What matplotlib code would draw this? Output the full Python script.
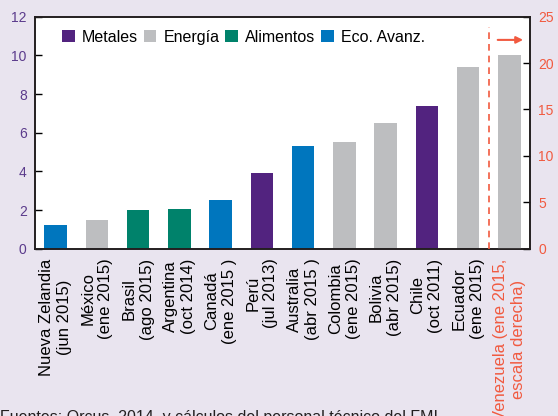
import matplotlib
matplotlib.use('Agg')
import matplotlib.pyplot as plt
from matplotlib.patches import Patch

plt.rcParams['font.family'] = ['Liberation Sans', 'DejaVu Sans']

# --- data ---
countries = ['Nueva Zelandia\n(jun 2015)', 'México\n(ene 2015)', 'Brasil\n(ago 2015)',
             'Argentina\n(oct 2014)', 'Canadá\n(ene 2015 )', 'Perú\n(jul 2013)',
             'Australia\n(abr 2015 )', 'Colombia\n(ene 2015)', 'Bolivia\n(abr 2015)',
             'Chile\n(oct 2011)', 'Ecuador\n(ene 2015)',
             'Venezuela (ene 2015,\nescala derecha)']
groups = ['Eco. Avanz.', 'Energía', 'Alimentos', 'Alimentos', 'Eco. Avanz.', 'Metales',
          'Eco. Avanz.', 'Energía', 'Energía', 'Metales', 'Energía', 'Energía']
values = [1.2, 1.5, 2.0, 2.05, 2.5, 3.9, 5.3, 5.5, 6.5, 7.4, 9.4]   # escala izquierda
venezuela = 20.9                                                     # escala derecha

legend_order = ['Metales', 'Energía', 'Alimentos', 'Eco. Avanz.']
group_colors = {
    'Metales': '#52237f',
    'Energía': '#bdbec0',
    'Alimentos': '#00826b',
    'Eco. Avanz.': '#0076be',
}
BG = '#e9e4ef'
PURPLE_TXT = '#5b3b8c'
RED = '#f15a40'

fig = plt.figure(figsize=(5.58, 4.16), dpi=100, facecolor=BG)
ax = fig.add_axes([35 / 558, 1 - 248.7 / 416, 495 / 558, 232 / 416])
ax2 = ax.twinx()

x = list(range(len(countries)))
ax.bar(x[:-1], values, width=0.55,
       color=[group_colors[g] for g in groups[:-1]], zorder=2)
ax2.bar(x[-1], venezuela, width=0.55, color=group_colors[groups[-1]], zorder=2)

ax.set_xlim(-0.5, len(countries) - 0.5)
ax.set_ylim(0, 12)
ax2.set_ylim(0, 25)
ax.set_yticks(range(0, 13, 2))
ax2.set_yticks(range(0, 26, 5))

ax.tick_params(axis='y', direction='in', length=5, width=1, labelsize=10,
               labelcolor=PURPLE_TXT, pad=6)
ax2.tick_params(axis='y', direction='in', length=5, width=1, labelsize=10,
                labelcolor=RED, pad=6)
ax.tick_params(axis='x', length=0, pad=7)

ax.set_xticks(x)
ax.set_xticklabels(countries, rotation=90, fontsize=12, ha='center',
                   va='top', multialignment='center', linespacing=1.25)
ax.get_xticklabels()[-1].set_color(RED)

for a in (ax, ax2):
    for s in a.spines.values():
        s.set_color('#231f20')
        s.set_linewidth(1.2)

# separador y flecha hacia la escala derecha
ax2.plot([10.5, 10.5], [0, 23.9], ls=(0, (4, 3)), color=RED, lw=1.2, zorder=3)
ax2.annotate('', xy=(11.4, 22.5), xytext=(10.65, 22.5),
             arrowprops=dict(arrowstyle='-|>', color=RED, lw=1.5,
                             mutation_scale=10))

handles = [Patch(facecolor=group_colors[g], edgecolor='none') for g in legend_order]
ax.legend(handles, legend_order, loc='upper left', bbox_to_anchor=(0.035, 0.985),
          ncol=4, frameon=False, fontsize=11.5, handlelength=0.8,
          handleheight=0.8, handletextpad=0.45, columnspacing=0.35,
          borderaxespad=0.2)

fig.text(0.0, 1 - 410 / 416, 'Fuentes: Orcus, 2014, y cálculos del personal técnico del FMI.',
         fontsize=11.5, va='top', ha='left', color='#231f20')

fig.savefig('out.png', dpi=100, facecolor=BG)
